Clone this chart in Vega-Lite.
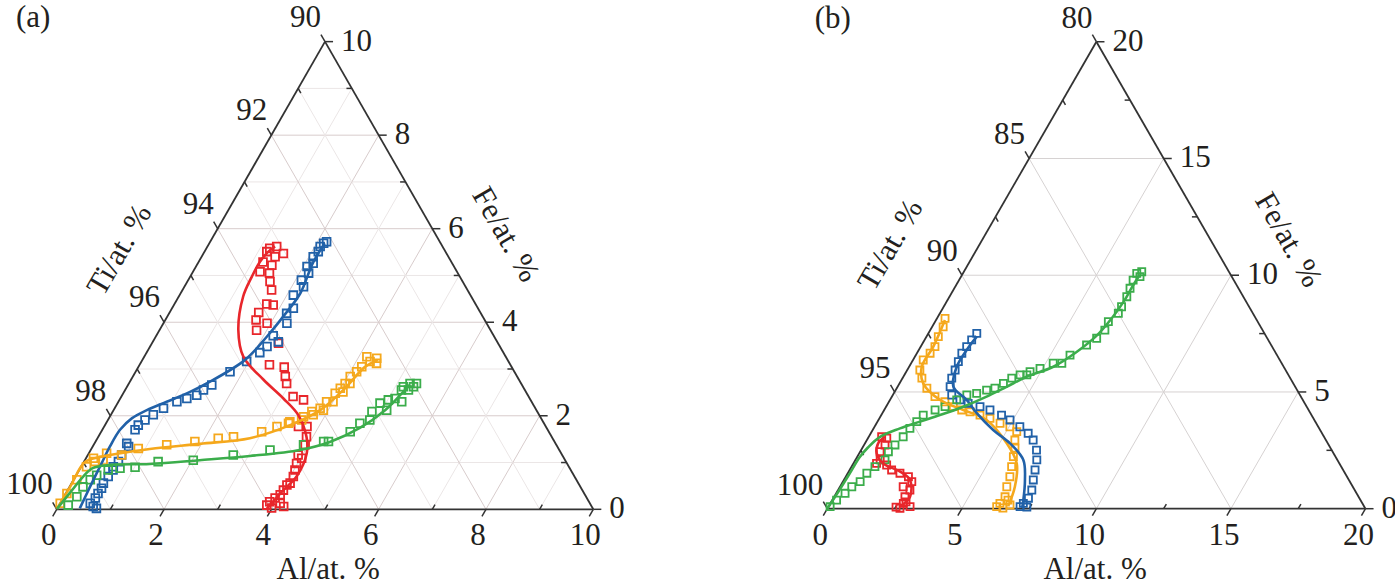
{
  "$schema": "https://vega.github.io/schema/vega-lite/v6.json",
  "padding": 0,
  "spacing": 0,
  "bounds": "flush",
  "background": "#ffffff",
  "config": {"view": {"stroke": null}, "text": {"font": "Liberation Serif", "color": "#231f20", "fontSize": 31}},
  "datasets": {
    "aEdge": [
      {"al": 0, "fe": 0, "al2": 10, "fe2": 0},
      {"al": 10, "fe": 0, "al2": 0, "fe2": 10},
      {"al": 0, "fe": 10, "al2": 0, "fe2": 0}
    ],
    "aGrid": [
      {"mj": 0, "al": 0, "fe": 1, "al2": 9, "fe2": 1}, {"mj": 1, "al": 0, "fe": 2, "al2": 8, "fe2": 2},
      {"mj": 0, "al": 0, "fe": 3, "al2": 7, "fe2": 3}, {"mj": 1, "al": 0, "fe": 4, "al2": 6, "fe2": 4},
      {"mj": 0, "al": 0, "fe": 5, "al2": 5, "fe2": 5}, {"mj": 1, "al": 0, "fe": 6, "al2": 4, "fe2": 6},
      {"mj": 0, "al": 0, "fe": 7, "al2": 3, "fe2": 7}, {"mj": 1, "al": 0, "fe": 8, "al2": 2, "fe2": 8},
      {"mj": 0, "al": 0, "fe": 9, "al2": 1, "fe2": 9},
      {"mj": 0, "al": 1, "fe": 0, "al2": 1, "fe2": 9}, {"mj": 1, "al": 2, "fe": 0, "al2": 2, "fe2": 8},
      {"mj": 0, "al": 3, "fe": 0, "al2": 3, "fe2": 7}, {"mj": 1, "al": 4, "fe": 0, "al2": 4, "fe2": 6},
      {"mj": 0, "al": 5, "fe": 0, "al2": 5, "fe2": 5}, {"mj": 1, "al": 6, "fe": 0, "al2": 6, "fe2": 4},
      {"mj": 0, "al": 7, "fe": 0, "al2": 7, "fe2": 3}, {"mj": 1, "al": 8, "fe": 0, "al2": 8, "fe2": 2},
      {"mj": 0, "al": 9, "fe": 0, "al2": 9, "fe2": 1},
      {"mj": 0, "al": 1, "fe": 0, "al2": 0, "fe2": 1}, {"mj": 1, "al": 2, "fe": 0, "al2": 0, "fe2": 2},
      {"mj": 0, "al": 3, "fe": 0, "al2": 0, "fe2": 3}, {"mj": 1, "al": 4, "fe": 0, "al2": 0, "fe2": 4},
      {"mj": 0, "al": 5, "fe": 0, "al2": 0, "fe2": 5}, {"mj": 1, "al": 6, "fe": 0, "al2": 0, "fe2": 6},
      {"mj": 0, "al": 7, "fe": 0, "al2": 0, "fe2": 7}, {"mj": 1, "al": 8, "fe": 0, "al2": 0, "fe2": 8},
      {"mj": 0, "al": 9, "fe": 0, "al2": 0, "fe2": 9}
    ],
    "aTick": [
      {"al": 0, "fe": 0, "al2": 0, "fe2": -0.15}, {"al": 2, "fe": 0, "al2": 2, "fe2": -0.15},
      {"al": 4, "fe": 0, "al2": 4, "fe2": -0.15}, {"al": 6, "fe": 0, "al2": 6, "fe2": -0.15},
      {"al": 8, "fe": 0, "al2": 8, "fe2": -0.15}, {"al": 10, "fe": 0, "al2": 10, "fe2": -0.15},
      {"al": 1, "fe": 0, "al2": 1, "fe2": 0.1}, {"al": 3, "fe": 0, "al2": 3, "fe2": 0.1},
      {"al": 5, "fe": 0, "al2": 5, "fe2": 0.1}, {"al": 7, "fe": 0, "al2": 7, "fe2": 0.1},
      {"al": 9, "fe": 0, "al2": 9, "fe2": 0.1},
      {"al": 10, "fe": 0, "al2": 10.15, "fe2": 0}, {"al": 8, "fe": 2, "al2": 8.15, "fe2": 2},
      {"al": 6, "fe": 4, "al2": 6.15, "fe2": 4}, {"al": 4, "fe": 6, "al2": 4.15, "fe2": 6},
      {"al": 2, "fe": 8, "al2": 2.15, "fe2": 8}, {"al": 0, "fe": 10, "al2": 0.15, "fe2": 10},
      {"al": 9, "fe": 1, "al2": 8.9, "fe2": 1}, {"al": 7, "fe": 3, "al2": 6.9, "fe2": 3},
      {"al": 5, "fe": 5, "al2": 4.9, "fe2": 5}, {"al": 3, "fe": 7, "al2": 2.9, "fe2": 7},
      {"al": 1, "fe": 9, "al2": 0.9, "fe2": 9},
      {"al": 0, "fe": 0, "al2": -0.15, "fe2": 0.15}, {"al": 0, "fe": 2, "al2": -0.15, "fe2": 2.15},
      {"al": 0, "fe": 4, "al2": -0.15, "fe2": 4.15}, {"al": 0, "fe": 6, "al2": -0.15, "fe2": 6.15},
      {"al": 0, "fe": 8, "al2": -0.15, "fe2": 8.15}, {"al": 0, "fe": 10, "al2": -0.15, "fe2": 10.15},
      {"al": 0, "fe": 1, "al2": 0.1, "fe2": 0.9}, {"al": 0, "fe": 3, "al2": 0.1, "fe2": 2.9},
      {"al": 0, "fe": 5, "al2": 0.1, "fe2": 4.9}, {"al": 0, "fe": 7, "al2": 0.1, "fe2": 6.9},
      {"al": 0, "fe": 9, "al2": 0.1, "fe2": 8.9}
    ],
    "aLab": [
      {"pos": "b", "al": 0, "fe": 0, "t": "0"}, {"pos": "b", "al": 2, "fe": 0, "t": "2"},
      {"pos": "b", "al": 4, "fe": 0, "t": "4"}, {"pos": "b", "al": 6, "fe": 0, "t": "6"},
      {"pos": "b", "al": 8, "fe": 0, "t": "8"}, {"pos": "b", "al": 10, "fe": 0, "t": "10"},
      {"pos": "r", "al": 10, "fe": 0, "t": "0"}, {"pos": "r", "al": 8, "fe": 2, "t": "2"},
      {"pos": "r", "al": 6, "fe": 4, "t": "4"}, {"pos": "r", "al": 4, "fe": 6, "t": "6"},
      {"pos": "r", "al": 2, "fe": 8, "t": "8"}, {"pos": "r", "al": 0, "fe": 10, "t": "10"},
      {"pos": "l", "al": 0, "fe": 0, "t": "100"}, {"pos": "l", "al": 0, "fe": 2, "t": "98"},
      {"pos": "l", "al": 0, "fe": 4, "t": "96"}, {"pos": "l", "al": 0, "fe": 6, "t": "94"},
      {"pos": "l", "al": 0, "fe": 8, "t": "92"}, {"pos": "l", "al": 0, "fe": 10, "t": "90"}
    ],
    "aTtl": [
      {"k": "ti", "al": -1.59, "fe": 5.54, "t": "Ti/at. %"},
      {"k": "fe", "al": 5.42, "fe": 5.87, "t": "Fe/at. %"},
      {"k": "al", "al": 5.71, "fe": -1.30, "t": "Al/at. %"},
      {"k": "p", "al": -6.01, "fe": 10.50, "t": "(a)"}
    ],
    "aPts": [
      {"s": "r", "al": 3.99, "fe": 0.03}, {"s": "r", "al": 3.87, "fe": 0.09}, {"s": "r", "al": 3.89, "fe": 0.16},
      {"s": "r", "al": 4.10, "fe": 0.13}, {"s": "r", "al": 4.20, "fe": 0.06}, {"s": "r", "al": 3.95, "fe": 0.24},
      {"s": "r", "al": 4.01, "fe": 0.31}, {"s": "r", "al": 4.02, "fe": 0.41}, {"s": "r", "al": 4.03, "fe": 0.52},
      {"s": "r", "al": 4.07, "fe": 0.56}, {"s": "r", "al": 4.06, "fe": 0.70}, {"s": "r", "al": 4.02, "fe": 0.84},
      {"s": "r", "al": 3.98, "fe": 0.98}, {"s": "r", "al": 3.92, "fe": 1.16}, {"s": "r", "al": 4.02, "fe": 1.09},
      {"s": "r", "al": 3.94, "fe": 1.38}, {"s": "r", "al": 3.88, "fe": 1.55}, {"s": "r", "al": 3.62, "fe": 1.77},
      {"s": "r", "al": 3.78, "fe": 1.77}, {"s": "r", "al": 3.43, "fe": 2.34}, {"s": "r", "al": 3.20, "fe": 2.41},
      {"s": "r", "al": 2.94, "fe": 2.69}, {"s": "r", "al": 2.84, "fe": 2.84}, {"s": "r", "al": 2.72, "fe": 3.04},
      {"s": "r", "al": 2.42, "fe": 3.09}, {"s": "r", "al": 2.36, "fe": 3.55}, {"s": "r", "al": 1.93, "fe": 3.98},
      {"s": "r", "al": 1.81, "fe": 3.83}, {"s": "r", "al": 1.66, "fe": 4.21}, {"s": "r", "al": 1.69, "fe": 4.05},
      {"s": "r", "al": 1.85, "fe": 4.37}, {"s": "r", "al": 1.72, "fe": 4.39}, {"s": "r", "al": 1.66, "fe": 4.69},
      {"s": "r", "al": 1.54, "fe": 4.87}, {"s": "r", "al": 1.25, "fe": 5.08}, {"s": "r", "al": 1.44, "fe": 5.05},
      {"s": "r", "al": 1.40, "fe": 5.22}, {"s": "r", "al": 1.20, "fe": 5.29}, {"s": "r", "al": 1.37, "fe": 5.40},
      {"s": "r", "al": 1.16, "fe": 5.51}, {"s": "r", "al": 1.29, "fe": 5.62}, {"s": "r", "al": 1.49, "fe": 5.47},
      {"s": "r", "al": 1.18, "fe": 5.58},
      {"s": "b", "al": 0.65, "fe": 0.06}, {"s": "b", "al": 0.56, "fe": 0.13}, {"s": "b", "al": 0.73, "fe": 0.02},
      {"s": "b", "al": 0.60, "fe": 0.24}, {"s": "b", "al": 0.60, "fe": 0.34}, {"s": "b", "al": 0.61, "fe": 0.45},
      {"s": "b", "al": 0.59, "fe": 0.56}, {"s": "b", "al": 0.61, "fe": 0.70}, {"s": "b", "al": 0.63, "fe": 0.84},
      {"s": "b", "al": 0.60, "fe": 0.91}, {"s": "b", "al": 0.64, "fe": 1.02}, {"s": "b", "al": 0.63, "fe": 1.16},
      {"s": "b", "al": 0.60, "fe": 1.41}, {"s": "b", "al": 0.67, "fe": 1.34}, {"s": "b", "al": 0.61, "fe": 1.70},
      {"s": "b", "al": 0.62, "fe": 1.80}, {"s": "b", "al": 0.69, "fe": 1.91}, {"s": "b", "al": 0.79, "fe": 2.02},
      {"s": "b", "al": 0.91, "fe": 2.16}, {"s": "b", "al": 1.09, "fe": 2.30}, {"s": "b", "al": 1.24, "fe": 2.37},
      {"s": "b", "al": 1.39, "fe": 2.44}, {"s": "b", "al": 1.46, "fe": 2.55}, {"s": "b", "al": 1.56, "fe": 2.66},
      {"s": "b", "al": 1.76, "fe": 2.94}, {"s": "b", "al": 1.96, "fe": 3.16}, {"s": "b", "al": 2.11, "fe": 3.35},
      {"s": "b", "al": 2.18, "fe": 3.48}, {"s": "b", "al": 2.18, "fe": 3.71}, {"s": "b", "al": 2.34, "fe": 3.58},
      {"s": "b", "al": 2.30, "fe": 3.98}, {"s": "b", "al": 2.19, "fe": 4.19}, {"s": "b", "al": 2.26, "fe": 4.30},
      {"s": "b", "al": 2.12, "fe": 4.58}, {"s": "b", "al": 2.22, "fe": 4.76}, {"s": "b", "al": 2.11, "fe": 4.90},
      {"s": "b", "al": 2.17, "fe": 5.05}, {"s": "b", "al": 2.07, "fe": 5.19}, {"s": "b", "al": 2.15, "fe": 5.26},
      {"s": "b", "al": 2.08, "fe": 5.40}, {"s": "b", "al": 2.12, "fe": 5.51}, {"s": "b", "al": 2.10, "fe": 5.62},
      {"s": "b", "al": 2.13, "fe": 5.69}, {"s": "b", "al": 2.17, "fe": 5.72},
      {"s": "o", "al": 0.00, "fe": 0.13}, {"s": "o", "al": 0.02, "fe": 0.34}, {"s": "o", "al": 0.06, "fe": 0.63},
      {"s": "o", "al": 0.10, "fe": 0.91}, {"s": "o", "al": 0.14, "fe": 1.09}, {"s": "o", "al": 0.20, "fe": 1.02},
      {"s": "o", "al": 0.34, "fe": 1.05}, {"s": "o", "al": 0.33, "fe": 1.20}, {"s": "o", "al": 0.63, "fe": 1.16},
      {"s": "o", "al": 0.87, "fe": 1.30}, {"s": "o", "al": 1.36, "fe": 1.38}, {"s": "o", "al": 1.85, "fe": 1.45},
      {"s": "o", "al": 2.25, "fe": 1.52}, {"s": "o", "al": 2.52, "fe": 1.55}, {"s": "o", "al": 2.99, "fe": 1.66},
      {"s": "o", "al": 3.22, "fe": 1.77}, {"s": "o", "al": 3.40, "fe": 1.84}, {"s": "o", "al": 3.41, "fe": 1.87},
      {"s": "o", "al": 3.61, "fe": 1.91}, {"s": "o", "al": 3.61, "fe": 1.98}, {"s": "o", "al": 3.71, "fe": 2.09},
      {"s": "o", "al": 3.77, "fe": 2.02}, {"s": "o", "al": 3.83, "fe": 2.16}, {"s": "o", "al": 3.91, "fe": 2.12},
      {"s": "o", "al": 3.88, "fe": 2.30}, {"s": "o", "al": 4.00, "fe": 2.30}, {"s": "o", "al": 3.95, "fe": 2.48},
      {"s": "o", "al": 3.99, "fe": 2.59}, {"s": "o", "al": 4.08, "fe": 2.51}, {"s": "o", "al": 4.03, "fe": 2.69},
      {"s": "o", "al": 4.05, "fe": 2.84}, {"s": "o", "al": 4.12, "fe": 2.69}, {"s": "o", "al": 4.12, "fe": 2.94},
      {"s": "o", "al": 4.16, "fe": 3.05}, {"s": "o", "al": 4.15, "fe": 3.26}, {"s": "o", "al": 4.26, "fe": 3.16},
      {"s": "o", "al": 4.35, "fe": 3.23}, {"s": "o", "al": 4.40, "fe": 3.12},
      {"s": "g", "al": 0.17, "fe": 0.09}, {"s": "g", "al": 0.24, "fe": 0.27}, {"s": "g", "al": 0.25, "fe": 0.48},
      {"s": "g", "al": 0.31, "fe": 0.63}, {"s": "g", "al": 0.38, "fe": 0.73}, {"s": "g", "al": 0.54, "fe": 0.84},
      {"s": "g", "al": 0.74, "fe": 0.88}, {"s": "g", "al": 1.01, "fe": 0.90}, {"s": "g", "al": 1.38, "fe": 1.02},
      {"s": "g", "al": 2.02, "fe": 1.05}, {"s": "g", "al": 2.71, "fe": 1.16}, {"s": "g", "al": 3.34, "fe": 1.27},
      {"s": "g", "al": 3.91, "fe": 1.38}, {"s": "g", "al": 4.25, "fe": 1.45}, {"s": "g", "al": 4.34, "fe": 1.45},
      {"s": "g", "al": 4.64, "fe": 1.66}, {"s": "g", "al": 4.73, "fe": 1.84}, {"s": "g", "al": 4.88, "fe": 1.91},
      {"s": "g", "al": 4.83, "fe": 2.09}, {"s": "g", "al": 4.89, "fe": 2.27}, {"s": "g", "al": 5.09, "fe": 2.12},
      {"s": "g", "al": 5.01, "fe": 2.34}, {"s": "g", "al": 5.12, "fe": 2.37}, {"s": "g", "al": 5.28, "fe": 2.30},
      {"s": "g", "al": 5.15, "fe": 2.55}, {"s": "g", "al": 5.28, "fe": 2.55}, {"s": "g", "al": 5.34, "fe": 2.62},
      {"s": "g", "al": 5.36, "fe": 2.69}, {"s": "g", "al": 5.24, "fe": 2.69}, {"s": "g", "al": 5.15, "fe": 2.62}
    ],
    "aLine": [
      {"s": "r", "i": 1, "al": 3.91, "fe": 0.01}, {"s": "r", "i": 2, "al": 4.02, "fe": 0.41},
      {"s": "r", "i": 3, "al": 4.12, "fe": 0.70}, {"s": "r", "i": 4, "al": 4.06, "fe": 1.20},
      {"s": "r", "i": 5, "al": 3.88, "fe": 1.55}, {"s": "r", "i": 6, "al": 3.49, "fe": 2.02},
      {"s": "r", "i": 7, "al": 3.04, "fe": 2.37}, {"s": "r", "i": 8, "al": 2.47, "fe": 2.77},
      {"s": "r", "i": 9, "al": 1.85, "fe": 3.26}, {"s": "r", "i": 10, "al": 1.47, "fe": 3.83},
      {"s": "r", "i": 11, "al": 1.20, "fe": 4.55}, {"s": "r", "i": 12, "al": 1.15, "fe": 4.97},
      {"s": "r", "i": 13, "al": 1.14, "fe": 5.29}, {"s": "r", "i": 14, "al": 1.19, "fe": 5.51},
      {"s": "r", "i": 15, "al": 1.26, "fe": 5.62},
      {"s": "b", "i": 1, "al": 0.42, "fe": 0.02}, {"s": "b", "i": 2, "al": 0.38, "fe": 0.48},
      {"s": "b", "i": 3, "al": 0.35, "fe": 0.91}, {"s": "b", "i": 4, "al": 0.32, "fe": 1.34},
      {"s": "b", "i": 5, "al": 0.33, "fe": 1.70}, {"s": "b", "i": 6, "al": 0.43, "fe": 1.95},
      {"s": "b", "i": 7, "al": 0.62, "fe": 2.12}, {"s": "b", "i": 8, "al": 0.90, "fe": 2.30},
      {"s": "b", "i": 9, "al": 1.23, "fe": 2.51}, {"s": "b", "i": 10, "al": 1.45, "fe": 2.69},
      {"s": "b", "i": 11, "al": 1.91, "fe": 3.19}, {"s": "b", "i": 12, "al": 2.07, "fe": 3.69},
      {"s": "b", "i": 13, "al": 2.16, "fe": 4.12}, {"s": "b", "i": 14, "al": 2.23, "fe": 4.62},
      {"s": "b", "i": 15, "al": 2.14, "fe": 5.27}, {"s": "b", "i": 16, "al": 2.15, "fe": 5.69},
      {"s": "o", "i": 1, "al": 0.00, "fe": 0.01}, {"s": "o", "i": 2, "al": 0.01, "fe": 0.48},
      {"s": "o", "i": 3, "al": 0.02, "fe": 1.01}, {"s": "o", "i": 4, "al": 0.25, "fe": 1.12},
      {"s": "o", "i": 5, "al": 1.09, "fe": 1.29}, {"s": "o", "i": 6, "al": 1.97, "fe": 1.40},
      {"s": "o", "i": 7, "al": 2.84, "fe": 1.52}, {"s": "o", "i": 8, "al": 3.45, "fe": 1.80},
      {"s": "o", "i": 9, "al": 3.85, "fe": 2.12}, {"s": "o", "i": 10, "al": 4.08, "fe": 2.59},
      {"s": "o", "i": 11, "al": 4.22, "fe": 3.04}, {"s": "o", "i": 12, "al": 4.39, "fe": 3.19},
      {"s": "g", "i": 1, "al": 0.00, "fe": 0.01}, {"s": "g", "i": 2, "al": 0.07, "fe": 0.35},
      {"s": "g", "i": 3, "al": 0.14, "fe": 0.69}, {"s": "g", "i": 4, "al": 0.23, "fe": 0.88},
      {"s": "g", "i": 5, "al": 0.52, "fe": 0.95}, {"s": "g", "i": 6, "al": 1.25, "fe": 0.97},
      {"s": "g", "i": 7, "al": 2.14, "fe": 1.05}, {"s": "g", "i": 8, "al": 3.03, "fe": 1.14},
      {"s": "g", "i": 9, "al": 3.90, "fe": 1.27}, {"s": "g", "i": 10, "al": 4.37, "fe": 1.44},
      {"s": "g", "i": 11, "al": 4.78, "fe": 1.74}, {"s": "g", "i": 12, "al": 5.06, "fe": 2.12},
      {"s": "g", "i": 13, "al": 5.18, "fe": 2.44}, {"s": "g", "i": 14, "al": 5.25, "fe": 2.66}
    ],
    "bEdge": [
      {"al": 0, "fe": 0, "al2": 20, "fe2": 0},
      {"al": 20, "fe": 0, "al2": 0, "fe2": 20},
      {"al": 0, "fe": 20, "al2": 0, "fe2": 0}
    ],
    "bGrid": [
      {"mj": 1, "al": 0, "fe": 5, "al2": 15, "fe2": 5}, {"mj": 1, "al": 0, "fe": 10, "al2": 10, "fe2": 10},
      {"mj": 1, "al": 0, "fe": 15, "al2": 5, "fe2": 15},
      {"mj": 1, "al": 5, "fe": 0, "al2": 5, "fe2": 15}, {"mj": 1, "al": 10, "fe": 0, "al2": 10, "fe2": 10},
      {"mj": 1, "al": 15, "fe": 0, "al2": 15, "fe2": 5},
      {"mj": 1, "al": 5, "fe": 0, "al2": 0, "fe2": 5}, {"mj": 1, "al": 10, "fe": 0, "al2": 0, "fe2": 10},
      {"mj": 1, "al": 15, "fe": 0, "al2": 0, "fe2": 15}
    ],
    "bTick": [
      {"al": 0, "fe": 0, "al2": 0, "fe2": -0.3}, {"al": 5, "fe": 0, "al2": 5, "fe2": -0.3},
      {"al": 10, "fe": 0, "al2": 10, "fe2": -0.3}, {"al": 15, "fe": 0, "al2": 15, "fe2": -0.3},
      {"al": 20, "fe": 0, "al2": 20, "fe2": -0.3},
      {"al": 2.5, "fe": 0, "al2": 2.5, "fe2": 0.2}, {"al": 7.5, "fe": 0, "al2": 7.5, "fe2": 0.2},
      {"al": 12.5, "fe": 0, "al2": 12.5, "fe2": 0.2}, {"al": 17.5, "fe": 0, "al2": 17.5, "fe2": 0.2},
      {"al": 20, "fe": 0, "al2": 20.3, "fe2": 0}, {"al": 15, "fe": 5, "al2": 15.3, "fe2": 5},
      {"al": 10, "fe": 10, "al2": 10.3, "fe2": 10}, {"al": 5, "fe": 15, "al2": 5.3, "fe2": 15},
      {"al": 0, "fe": 20, "al2": 0.3, "fe2": 20},
      {"al": 17.5, "fe": 2.5, "al2": 17.3, "fe2": 2.5}, {"al": 12.5, "fe": 7.5, "al2": 12.3, "fe2": 7.5},
      {"al": 7.5, "fe": 12.5, "al2": 7.3, "fe2": 12.5}, {"al": 2.5, "fe": 17.5, "al2": 2.3, "fe2": 17.5},
      {"al": 0, "fe": 0, "al2": -0.3, "fe2": 0.3}, {"al": 0, "fe": 5, "al2": -0.3, "fe2": 5.3},
      {"al": 0, "fe": 10, "al2": -0.3, "fe2": 10.3}, {"al": 0, "fe": 15, "al2": -0.3, "fe2": 15.3},
      {"al": 0, "fe": 20, "al2": -0.3, "fe2": 20.3},
      {"al": 0, "fe": 2.5, "al2": 0.2, "fe2": 2.3}, {"al": 0, "fe": 7.5, "al2": 0.2, "fe2": 7.3},
      {"al": 0, "fe": 12.5, "al2": 0.2, "fe2": 12.3}, {"al": 0, "fe": 17.5, "al2": 0.2, "fe2": 17.3}
    ],
    "bLab": [
      {"pos": "b", "al": 0, "fe": 0, "t": "0"}, {"pos": "b", "al": 5, "fe": 0, "t": "5"},
      {"pos": "b", "al": 10, "fe": 0, "t": "10"}, {"pos": "b", "al": 15, "fe": 0, "t": "15"},
      {"pos": "b", "al": 20, "fe": 0, "t": "20"},
      {"pos": "r", "al": 20, "fe": 0, "t": "0"}, {"pos": "r", "al": 15, "fe": 5, "t": "5"},
      {"pos": "r", "al": 10, "fe": 10, "t": "10"}, {"pos": "r", "al": 5, "fe": 15, "t": "15"},
      {"pos": "r", "al": 0, "fe": 20, "t": "20"},
      {"pos": "l", "al": 0, "fe": 0, "t": "100"}, {"pos": "l", "al": 0, "fe": 5, "t": "95"},
      {"pos": "l", "al": 0, "fe": 10, "t": "90"}, {"pos": "l", "al": 0, "fe": 15, "t": "85"},
      {"pos": "l", "al": 0, "fe": 20, "t": "80"}
    ],
    "bTtl": [
      {"k": "ti", "al": -3.28, "fe": 11.29, "t": "Ti/at. %"},
      {"k": "fe", "al": 11.37, "fe": 11.50, "t": "Fe/at. %"},
      {"k": "al", "al": 11.26, "fe": -2.62, "t": "Al/at. %"},
      {"k": "p", "al": -10.96, "fe": 20.98, "t": "(b)"}
    ],
    "bPts": [
      {"s": "r", "al": 2.69, "fe": 0.02}, {"s": "r", "al": 2.71, "fe": 0.23}, {"s": "r", "al": 3.03, "fe": 0.09},
      {"s": "r", "al": 2.63, "fe": 0.51}, {"s": "r", "al": 2.67, "fe": 0.80}, {"s": "r", "al": 2.35, "fe": 0.94},
      {"s": "r", "al": 2.56, "fe": 1.16}, {"s": "r", "al": 2.33, "fe": 1.37}, {"s": "r", "al": 1.94, "fe": 1.52},
      {"s": "r", "al": 1.56, "fe": 1.66}, {"s": "r", "al": 1.27, "fe": 1.87}, {"s": "r", "al": 0.92, "fe": 2.09},
      {"s": "r", "al": 0.86, "fe": 1.94}, {"s": "r", "al": 0.74, "fe": 2.44}, {"s": "r", "al": 0.78, "fe": 2.73},
      {"s": "r", "al": 0.70, "fe": 3.02}, {"s": "r", "al": 0.48, "fe": 3.08}, {"s": "r", "al": 2.52, "fe": 0.07},
      {"s": "r", "al": 2.78, "fe": 0.29},
      {"s": "o", "al": 0.30, "fe": 8.15}, {"s": "o", "al": 0.41, "fe": 7.79}, {"s": "o", "al": 0.44, "fe": 7.37},
      {"s": "o", "al": 0.53, "fe": 6.94}, {"s": "o", "al": 0.49, "fe": 6.66}, {"s": "o", "al": 0.38, "fe": 6.37},
      {"s": "o", "al": 0.47, "fe": 5.94}, {"s": "o", "al": 0.72, "fe": 5.59}, {"s": "o", "al": 1.12, "fe": 5.16},
      {"s": "o", "al": 1.60, "fe": 4.80}, {"s": "o", "al": 2.08, "fe": 4.58}, {"s": "o", "al": 2.50, "fe": 4.37},
      {"s": "o", "al": 2.88, "fe": 4.23}, {"s": "o", "al": 3.23, "fe": 4.15}, {"s": "o", "al": 3.67, "fe": 4.01},
      {"s": "o", "al": 4.11, "fe": 3.87}, {"s": "o", "al": 4.59, "fe": 3.66}, {"s": "o", "al": 5.03, "fe": 3.51},
      {"s": "o", "al": 5.39, "fe": 3.30}, {"s": "o", "al": 5.50, "fe": 2.94}, {"s": "o", "al": 5.68, "fe": 2.59},
      {"s": "o", "al": 5.80, "fe": 2.23}, {"s": "o", "al": 5.95, "fe": 1.80}, {"s": "o", "al": 6.10, "fe": 1.37},
      {"s": "o", "al": 6.20, "fe": 0.94}, {"s": "o", "al": 6.35, "fe": 0.51}, {"s": "o", "al": 6.30, "fe": 0.23},
      {"s": "o", "al": 6.25, "fe": 0.09}, {"s": "o", "al": 6.71, "fe": 0.16}, {"s": "o", "al": 6.51, "fe": 0.03},
      {"s": "o", "al": 6.53, "fe": 0.37},
      {"s": "b", "al": 1.80, "fe": 7.51}, {"s": "b", "al": 1.75, "fe": 7.23}, {"s": "b", "al": 1.71, "fe": 6.94},
      {"s": "b", "al": 1.67, "fe": 6.66}, {"s": "b", "al": 1.72, "fe": 6.30}, {"s": "b", "al": 1.78, "fe": 5.94},
      {"s": "b", "al": 1.83, "fe": 5.59}, {"s": "b", "al": 1.95, "fe": 5.23}, {"s": "b", "al": 2.19, "fe": 4.87},
      {"s": "b", "al": 2.60, "fe": 4.66}, {"s": "b", "al": 2.98, "fe": 4.51}, {"s": "b", "al": 3.49, "fe": 4.37},
      {"s": "b", "al": 3.93, "fe": 4.23}, {"s": "b", "al": 4.47, "fe": 4.01}, {"s": "b", "al": 4.89, "fe": 3.80},
      {"s": "b", "al": 5.40, "fe": 3.51}, {"s": "b", "al": 5.85, "fe": 3.23}, {"s": "b", "al": 6.18, "fe": 2.94},
      {"s": "b", "al": 6.52, "fe": 2.51}, {"s": "b", "al": 6.74, "fe": 2.09}, {"s": "b", "al": 6.89, "fe": 1.66},
      {"s": "b", "al": 7.04, "fe": 1.23}, {"s": "b", "al": 7.20, "fe": 0.80}, {"s": "b", "al": 7.25, "fe": 0.45},
      {"s": "b", "al": 7.17, "fe": 0.23}, {"s": "b", "al": 7.12, "fe": 0.09}, {"s": "b", "al": 7.38, "fe": 0.07},
      {"s": "g", "al": 0.06, "fe": 0.09}, {"s": "g", "al": 0.16, "fe": 0.37}, {"s": "g", "al": 0.33, "fe": 0.66},
      {"s": "g", "al": 0.44, "fe": 0.94}, {"s": "g", "al": 0.64, "fe": 1.16}, {"s": "g", "al": 0.71, "fe": 1.52},
      {"s": "g", "al": 0.87, "fe": 1.80}, {"s": "g", "al": 1.10, "fe": 2.09}, {"s": "g", "al": 1.05, "fe": 2.44},
      {"s": "g", "al": 1.15, "fe": 2.73}, {"s": "g", "al": 1.28, "fe": 3.08}, {"s": "g", "al": 1.35, "fe": 3.44},
      {"s": "g", "al": 1.46, "fe": 3.73}, {"s": "g", "al": 1.56, "fe": 4.01}, {"s": "g", "al": 1.89, "fe": 4.23},
      {"s": "g", "al": 2.19, "fe": 4.37}, {"s": "g", "al": 2.48, "fe": 4.66}, {"s": "g", "al": 2.75, "fe": 4.87},
      {"s": "g", "al": 3.08, "fe": 4.94}, {"s": "g", "al": 3.38, "fe": 5.08}, {"s": "g", "al": 3.65, "fe": 5.16},
      {"s": "g", "al": 3.86, "fe": 5.37}, {"s": "g", "al": 4.06, "fe": 5.59}, {"s": "g", "al": 4.30, "fe": 5.73},
      {"s": "g", "al": 4.55, "fe": 5.73}, {"s": "g", "al": 4.60, "fe": 5.87}, {"s": "g", "al": 4.90, "fe": 6.01},
      {"s": "g", "al": 5.28, "fe": 6.23}, {"s": "g", "al": 5.60, "fe": 6.23}, {"s": "g", "al": 5.73, "fe": 6.58},
      {"s": "g", "al": 6.13, "fe": 7.01}, {"s": "g", "al": 6.36, "fe": 7.30}, {"s": "g", "al": 6.49, "fe": 7.65},
      {"s": "g", "al": 6.44, "fe": 8.01}, {"s": "g", "al": 6.63, "fe": 8.37}, {"s": "g", "al": 6.61, "fe": 8.65},
      {"s": "g", "al": 6.59, "fe": 9.08}, {"s": "g", "al": 6.53, "fe": 9.44}, {"s": "g", "al": 6.47, "fe": 9.79},
      {"s": "g", "al": 6.46, "fe": 10.08}, {"s": "g", "al": 6.61, "fe": 10.15}, {"s": "g", "al": 6.65, "fe": 9.94}
    ],
    "bLine": [
      {"s": "r", "i": 1, "al": 2.66, "fe": 0.09}, {"s": "r", "i": 2, "al": 2.82, "fe": 0.51},
      {"s": "r", "i": 3, "al": 2.46, "fe": 1.23}, {"s": "r", "i": 4, "al": 1.91, "fe": 1.59},
      {"s": "r", "i": 5, "al": 1.11, "fe": 1.94}, {"s": "r", "i": 6, "al": 0.65, "fe": 2.37},
      {"s": "r", "i": 7, "al": 0.49, "fe": 2.80}, {"s": "r", "i": 8, "al": 0.60, "fe": 3.08},
      {"s": "o", "i": 1, "al": 0.33, "fe": 8.08}, {"s": "o", "i": 2, "al": 0.47, "fe": 6.94},
      {"s": "o", "i": 3, "al": 0.47, "fe": 6.08}, {"s": "o", "i": 4, "al": 0.88, "fe": 5.37},
      {"s": "o", "i": 5, "al": 1.86, "fe": 4.66}, {"s": "o", "i": 6, "al": 2.94, "fe": 4.23},
      {"s": "o", "i": 7, "al": 4.02, "fe": 3.80}, {"s": "o", "i": 8, "al": 5.27, "fe": 2.80},
      {"s": "o", "i": 9, "al": 6.07, "fe": 1.94}, {"s": "o", "i": 10, "al": 6.50, "fe": 0.94},
      {"s": "o", "i": 11, "al": 6.67, "fe": 0.10},
      {"s": "b", "i": 1, "al": 1.87, "fe": 7.37}, {"s": "b", "i": 2, "al": 1.78, "fe": 6.80},
      {"s": "b", "i": 3, "al": 1.77, "fe": 6.08}, {"s": "b", "i": 4, "al": 2.07, "fe": 5.23},
      {"s": "b", "i": 5, "al": 2.85, "fe": 4.66}, {"s": "b", "i": 6, "al": 3.51, "fe": 4.09},
      {"s": "b", "i": 7, "al": 4.48, "fe": 3.37}, {"s": "b", "i": 8, "al": 5.39, "fe": 2.80},
      {"s": "b", "i": 9, "al": 6.24, "fe": 2.09}, {"s": "b", "i": 10, "al": 6.73, "fe": 1.23},
      {"s": "b", "i": 11, "al": 7.10, "fe": 0.37}, {"s": "b", "i": 12, "al": 7.22, "fe": 0.03},
      {"s": "g", "i": 1, "al": 0.00, "fe": 0.00}, {"s": "g", "i": 2, "al": 0.05, "fe": 0.80},
      {"s": "g", "i": 3, "al": 0.08, "fe": 1.60}, {"s": "g", "i": 4, "al": 0.10, "fe": 2.20},
      {"s": "g", "i": 5, "al": 0.20, "fe": 2.62}, {"s": "g", "i": 6, "al": 0.42, "fe": 3.08},
      {"s": "g", "i": 7, "al": 0.98, "fe": 3.44}, {"s": "g", "i": 8, "al": 1.58, "fe": 3.73},
      {"s": "g", "i": 9, "al": 2.18, "fe": 4.01}, {"s": "g", "i": 10, "al": 2.87, "fe": 4.37},
      {"s": "g", "i": 11, "al": 3.52, "fe": 4.80}, {"s": "g", "i": 12, "al": 4.05, "fe": 5.22},
      {"s": "g", "i": 13, "al": 4.58, "fe": 5.65}, {"s": "g", "i": 14, "al": 5.36, "fe": 6.08},
      {"s": "g", "i": 15, "al": 5.90, "fe": 6.70}, {"s": "g", "i": 16, "al": 6.30, "fe": 7.40},
      {"s": "g", "i": 17, "al": 6.50, "fe": 8.20}, {"s": "g", "i": 18, "al": 6.58, "fe": 8.90},
      {"s": "g", "i": 19, "al": 6.58, "fe": 9.50}, {"s": "g", "i": 20, "al": 6.60, "fe": 10.00}
    ]
  },
  "hconcat": [
    {
      "width": 700,
      "height": 584,
      "encoding": {
        "x": {"field": "x", "type": "quantitative", "scale": {"domain": [-1.057, 11.989], "nice": false, "zero": false}, "axis": null},
        "y": {"field": "y", "type": "quantitative", "scale": {"domain": [-1.383, 9.431], "nice": false, "zero": false}, "axis": null}
      },
      "layer": [
        {
          "data": {"name": "aGrid"},
          "transform": [
            {"calculate": "datum.al + datum.fe / 2", "as": "x"}, {"calculate": "datum.fe * 0.8660254", "as": "y"},
            {"calculate": "datum.al2 + datum.fe2 / 2", "as": "x2"}, {"calculate": "datum.fe2 * 0.8660254", "as": "y2"}
          ],
          "mark": {"type": "rule", "strokeWidth": 1},
          "encoding": {
            "x2": {"field": "x2"}, "y2": {"field": "y2"},
            "color": {"condition": {"test": "datum.mj == 1", "value": "#d8cccc"}, "value": "#ebe6e6"}
          }
        },
        {
          "data": {"name": "aTick"},
          "transform": [
            {"calculate": "datum.al + datum.fe / 2", "as": "x"}, {"calculate": "datum.fe * 0.8660254", "as": "y"},
            {"calculate": "datum.al2 + datum.fe2 / 2", "as": "x2"}, {"calculate": "datum.fe2 * 0.8660254", "as": "y2"}
          ],
          "mark": {"type": "rule", "strokeWidth": 1.5, "color": "#333333"},
          "encoding": {"x2": {"field": "x2"}, "y2": {"field": "y2"}}
        },
        {
          "data": {"name": "aEdge"},
          "transform": [
            {"calculate": "datum.al + datum.fe / 2", "as": "x"}, {"calculate": "datum.fe * 0.8660254", "as": "y"},
            {"calculate": "datum.al2 + datum.fe2 / 2", "as": "x2"}, {"calculate": "datum.fe2 * 0.8660254", "as": "y2"}
          ],
          "mark": {"type": "rule", "strokeWidth": 1.8, "color": "#333333"},
          "encoding": {"x2": {"field": "x2"}, "y2": {"field": "y2"}}
        },
        {
          "data": {"name": "aPts"},
          "transform": [{"calculate": "datum.al + datum.fe / 2", "as": "x"}, {"calculate": "datum.fe * 0.8660254", "as": "y"}],
          "mark": {"type": "point", "shape": "square", "filled": false, "size": 60, "strokeWidth": 1.8, "opacity": 1},
          "encoding": {
            "color": {"field": "s", "type": "nominal", "scale": {"domain": ["r", "b", "o", "g"], "range": ["#e8262b", "#2161a8", "#f5a81c", "#3bad4b"]}, "legend": null}
          }
        },
        {
          "data": {"name": "aLine"},
          "transform": [{"calculate": "datum.al + datum.fe / 2", "as": "x"}, {"calculate": "datum.fe * 0.8660254", "as": "y"}],
          "mark": {"type": "line", "strokeWidth": 2.6, "interpolate": "catmull-rom"},
          "encoding": {
            "color": {"field": "s", "type": "nominal", "scale": {"domain": ["r", "b", "o", "g"], "range": ["#e8262b", "#2161a8", "#f5a81c", "#3bad4b"]}, "legend": null},
            "order": {"field": "i", "type": "quantitative"}
          }
        },
        {
          "data": {"name": "aLab"},
          "transform": [{"filter": "datum.pos == 'b'"}, {"calculate": "datum.al + datum.fe / 2", "as": "x"}, {"calculate": "datum.fe * 0.8660254", "as": "y"}],
          "mark": {"type": "text", "align": "center", "baseline": "middle", "dx": -8, "dy": 27},
          "encoding": {"text": {"field": "t"}}
        },
        {
          "data": {"name": "aLab"},
          "transform": [{"filter": "datum.pos == 'r'"}, {"calculate": "datum.al + datum.fe / 2", "as": "x"}, {"calculate": "datum.fe * 0.8660254", "as": "y"}],
          "mark": {"type": "text", "align": "left", "baseline": "middle", "dx": 16, "dy": 0},
          "encoding": {"text": {"field": "t"}}
        },
        {
          "data": {"name": "aLab"},
          "transform": [{"filter": "datum.pos == 'l'"}, {"calculate": "datum.al + datum.fe / 2", "as": "x"}, {"calculate": "datum.fe * 0.8660254", "as": "y"}],
          "mark": {"type": "text", "align": "right", "baseline": "middle", "dx": -4, "dy": -24},
          "encoding": {"text": {"field": "t"}}
        },
        {
          "data": {"name": "aTtl"},
          "transform": [{"filter": "datum.k == 'ti'"}, {"calculate": "datum.al + datum.fe / 2", "as": "x"}, {"calculate": "datum.fe * 0.8660254", "as": "y"}],
          "mark": {"type": "text", "align": "center", "baseline": "middle", "angle": -60},
          "encoding": {"text": {"field": "t"}}
        },
        {
          "data": {"name": "aTtl"},
          "transform": [{"filter": "datum.k == 'fe'"}, {"calculate": "datum.al + datum.fe / 2", "as": "x"}, {"calculate": "datum.fe * 0.8660254", "as": "y"}],
          "mark": {"type": "text", "align": "center", "baseline": "middle", "angle": 60},
          "encoding": {"text": {"field": "t"}}
        },
        {
          "data": {"name": "aTtl"},
          "transform": [{"filter": "datum.k == 'al'"}, {"calculate": "datum.al + datum.fe / 2", "as": "x"}, {"calculate": "datum.fe * 0.8660254", "as": "y"}],
          "mark": {"type": "text", "align": "center", "baseline": "middle"},
          "encoding": {"text": {"field": "t"}}
        },
        {
          "data": {"name": "aTtl"},
          "transform": [{"filter": "datum.k == 'p'"}, {"calculate": "datum.al + datum.fe / 2", "as": "x"}, {"calculate": "datum.fe * 0.8660254", "as": "y"}],
          "mark": {"type": "text", "align": "left", "baseline": "middle"},
          "encoding": {"text": {"field": "t"}}
        }
      ]
    },
    {
      "width": 695,
      "height": 584,
      "encoding": {
        "x": {"field": "x", "type": "quantitative", "scale": {"domain": [-4.731, 21.097], "nice": false, "zero": false}, "axis": null},
        "y": {"field": "y", "type": "quantitative", "scale": {"domain": [-2.793, 18.869], "nice": false, "zero": false}, "axis": null}
      },
      "layer": [
        {
          "data": {"name": "bGrid"},
          "transform": [
            {"calculate": "datum.al + datum.fe / 2", "as": "x"}, {"calculate": "datum.fe * 0.8660254", "as": "y"},
            {"calculate": "datum.al2 + datum.fe2 / 2", "as": "x2"}, {"calculate": "datum.fe2 * 0.8660254", "as": "y2"}
          ],
          "mark": {"type": "rule", "strokeWidth": 1, "color": "#d6d2d2"},
          "encoding": {"x2": {"field": "x2"}, "y2": {"field": "y2"}}
        },
        {
          "data": {"name": "bTick"},
          "transform": [
            {"calculate": "datum.al + datum.fe / 2", "as": "x"}, {"calculate": "datum.fe * 0.8660254", "as": "y"},
            {"calculate": "datum.al2 + datum.fe2 / 2", "as": "x2"}, {"calculate": "datum.fe2 * 0.8660254", "as": "y2"}
          ],
          "mark": {"type": "rule", "strokeWidth": 1.5, "color": "#333333"},
          "encoding": {"x2": {"field": "x2"}, "y2": {"field": "y2"}}
        },
        {
          "data": {"name": "bEdge"},
          "transform": [
            {"calculate": "datum.al + datum.fe / 2", "as": "x"}, {"calculate": "datum.fe * 0.8660254", "as": "y"},
            {"calculate": "datum.al2 + datum.fe2 / 2", "as": "x2"}, {"calculate": "datum.fe2 * 0.8660254", "as": "y2"}
          ],
          "mark": {"type": "rule", "strokeWidth": 1.8, "color": "#333333"},
          "encoding": {"x2": {"field": "x2"}, "y2": {"field": "y2"}}
        },
        {
          "data": {"name": "bPts"},
          "transform": [{"calculate": "datum.al + datum.fe / 2", "as": "x"}, {"calculate": "datum.fe * 0.8660254", "as": "y"}],
          "mark": {"type": "point", "shape": "square", "filled": false, "size": 50, "strokeWidth": 1.8, "opacity": 1},
          "encoding": {
            "color": {"field": "s", "type": "nominal", "scale": {"domain": ["r", "b", "o", "g"], "range": ["#e8262b", "#2161a8", "#f5a81c", "#3bad4b"]}, "legend": null}
          }
        },
        {
          "data": {"name": "bLine"},
          "transform": [{"calculate": "datum.al + datum.fe / 2", "as": "x"}, {"calculate": "datum.fe * 0.8660254", "as": "y"}],
          "mark": {"type": "line", "strokeWidth": 2.6, "interpolate": "catmull-rom"},
          "encoding": {
            "color": {"field": "s", "type": "nominal", "scale": {"domain": ["r", "b", "o", "g"], "range": ["#e8262b", "#2161a8", "#f5a81c", "#3bad4b"]}, "legend": null},
            "order": {"field": "i", "type": "quantitative"}
          }
        },
        {
          "data": {"name": "bLab"},
          "transform": [{"filter": "datum.pos == 'b'"}, {"calculate": "datum.al + datum.fe / 2", "as": "x"}, {"calculate": "datum.fe * 0.8660254", "as": "y"}],
          "mark": {"type": "text", "align": "center", "baseline": "middle", "dx": -7, "dy": 27},
          "encoding": {"text": {"field": "t"}}
        },
        {
          "data": {"name": "bLab"},
          "transform": [{"filter": "datum.pos == 'r'"}, {"calculate": "datum.al + datum.fe / 2", "as": "x"}, {"calculate": "datum.fe * 0.8660254", "as": "y"}],
          "mark": {"type": "text", "align": "left", "baseline": "middle", "dx": 16, "dy": 0},
          "encoding": {"text": {"field": "t"}}
        },
        {
          "data": {"name": "bLab"},
          "transform": [{"filter": "datum.pos == 'l'"}, {"calculate": "datum.al + datum.fe / 2", "as": "x"}, {"calculate": "datum.fe * 0.8660254", "as": "y"}],
          "mark": {"type": "text", "align": "right", "baseline": "middle", "dx": -4, "dy": -23},
          "encoding": {"text": {"field": "t"}}
        },
        {
          "data": {"name": "bTtl"},
          "transform": [{"filter": "datum.k == 'ti'"}, {"calculate": "datum.al + datum.fe / 2", "as": "x"}, {"calculate": "datum.fe * 0.8660254", "as": "y"}],
          "mark": {"type": "text", "align": "center", "baseline": "middle", "angle": -60},
          "encoding": {"text": {"field": "t"}}
        },
        {
          "data": {"name": "bTtl"},
          "transform": [{"filter": "datum.k == 'fe'"}, {"calculate": "datum.al + datum.fe / 2", "as": "x"}, {"calculate": "datum.fe * 0.8660254", "as": "y"}],
          "mark": {"type": "text", "align": "center", "baseline": "middle", "angle": 60},
          "encoding": {"text": {"field": "t"}}
        },
        {
          "data": {"name": "bTtl"},
          "transform": [{"filter": "datum.k == 'al'"}, {"calculate": "datum.al + datum.fe / 2", "as": "x"}, {"calculate": "datum.fe * 0.8660254", "as": "y"}],
          "mark": {"type": "text", "align": "center", "baseline": "middle"},
          "encoding": {"text": {"field": "t"}}
        },
        {
          "data": {"name": "bTtl"},
          "transform": [{"filter": "datum.k == 'p'"}, {"calculate": "datum.al + datum.fe / 2", "as": "x"}, {"calculate": "datum.fe * 0.8660254", "as": "y"}],
          "mark": {"type": "text", "align": "left", "baseline": "middle"},
          "encoding": {"text": {"field": "t"}}
        }
      ]
    }
  ]
}
